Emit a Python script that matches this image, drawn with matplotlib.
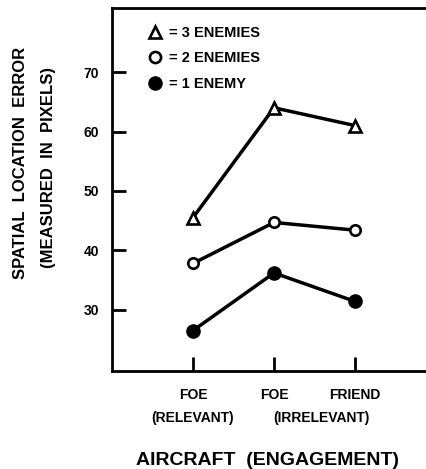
import matplotlib.pyplot as plt
from matplotlib.lines import Line2D
from matplotlib.transforms import blended_transform_factory

plt.rcParams['font.family'] = ['Liberation Sans', 'DejaVu Sans']
plt.rcParams['font.weight'] = 'bold'

categories = ["FOE", "FOE", "FRIEND"]
sub_labels = ["(RELEVANT)", "(IRRELEVANT)"]
sub_label_x = [1, 2.58]
three_enemies = [45.5, 64, 61]
two_enemies = [37.8, 44.7, 43.4]
one_enemy = [26.5, 36.2, 31.4]
y_ticks = [30, 40, 50, 60, 70]

fig = plt.figure(figsize=(4.27, 4.69), dpi=100)
ax = fig.add_axes([0.262, 0.209, 0.75, 0.774])

x = [1, 2, 3]
lw = 2.5
ax.plot(x, three_enemies, color='black', lw=lw, marker='^', ms=8.5,
        mfc='white', mec='black', mew=1.9, zorder=3)
ax.plot(x, two_enemies, color='black', lw=lw, marker='o', ms=7.5,
        mfc='white', mec='black', mew=1.9, zorder=3)
ax.plot(x, one_enemy, color='black', lw=lw, marker='o', ms=9.5,
        mfc='black', mec='black', zorder=3)

ax.set_xlim(0, 3.95)
ax.set_ylim(19.7, 80.8)
ax.set_xticks(x)
ax.set_xticklabels(categories, fontsize=10, fontweight='bold')
ax.set_yticks(y_ticks)
ax.set_yticklabels([str(v) for v in y_ticks], fontsize=10, fontweight='bold')
ax.tick_params(direction='in', length=10, width=2, pad=9)
ax.tick_params(axis='x', pad=12)

# second line of the category labels
trans = blended_transform_factory(ax.transData, ax.transAxes)
for sx, lab in zip(sub_label_x, sub_labels):
    ax.text(sx, -0.13, lab, transform=trans, ha='center', va='center',
            fontsize=10, fontweight='bold')

ax.spines['right'].set_visible(False)
for s in ['left', 'bottom', 'top']:
    ax.spines[s].set_linewidth(2)

fig.text(0.626, 0.019, "AIRCRAFT  (ENGAGEMENT)", fontsize=14,
         fontweight='bold', ha='center', va='center')
fig.text(0.047, 0.652, "SPATIAL  LOCATION  ERROR", rotation=90, fontsize=12,
         fontweight='bold', ha='center', va='center')
fig.text(0.113, 0.642, "(MEASURED  IN  PIXELS)", rotation=90, fontsize=12,
         fontweight='bold', ha='center', va='center')

handles = [
    Line2D([], [], ls='none', marker='^', ms=8, mfc='white', mec='black', mew=1.9),
    Line2D([], [], ls='none', marker='o', ms=8, mfc='white', mec='black', mew=1.9),
    Line2D([], [], ls='none', marker='o', ms=9.5, mfc='black', mec='black'),
]
labels = ["= 3 ENEMIES", "= 2 ENEMIES", "= 1 ENEMY"]
ax.legend(handles, labels, loc='upper left', frameon=False, fontsize=10.5,
          handlelength=1, handletextpad=0.4, labelspacing=0.8,
          borderaxespad=0, bbox_to_anchor=(0.095, 0.967))

fig.savefig("out.png", dpi=100)
